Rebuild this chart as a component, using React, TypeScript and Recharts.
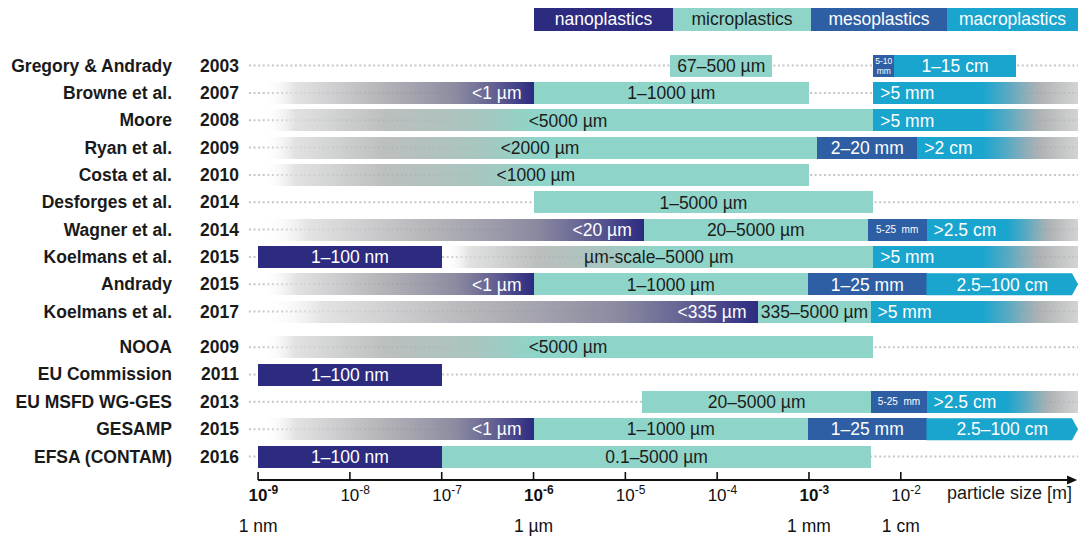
import React from "react";
import { BarChart, Bar, XAxis, YAxis, LabelList, ReferenceLine } from "recharts";

const FONT = "'Liberation Sans', Arial, Helvetica, sans-serif";
const NANO = "#2c2b80";
const MICRO = "#8fd4c8";
const MESO = "#2e5ea3";
const MACRO = "#19a5ce";

// x axis: log10 of particle size in metres
const X_MIN = -9.11;
const X_MAX = -0.07;
// y axis: row positions (small gap before the institutional definitions)
const Y_MIN = -0.922;
const Y_MAX = 15.17;

type Span = [number, number] | null;

const sources = [
  "Gregory & Andrady",
  "Browne et al.",
  "Moore",
  "Ryan et al.",
  "Costa et al.",
  "Desforges et al.",
  "Wagner et al.",
  "Koelmans et al.",
  "Andrady",
  "Koelmans et al.",
  "NOOA",
  "EU Commission",
  "EU MSFD WG-GES",
  "GESAMP",
  "EFSA (CONTAM)",
];
const years = ["2003", "2007", "2008", "2009", "2010", "2014", "2014", "2015", "2015", "2017", "2009", "2011", "2013", "2015", "2016"];
const rowPos = [0, 1, 2, 3, 4, 5, 6, 7, 8, 9, 10.3, 11.3, 12.3, 13.3, 14.3];

const guideSpan: Span = [-9.1, X_MAX];

// faded ends (open size ranges)
const nanoFade: Span[] = [null, [-8.95, -6], null, null, null, null, [-8.95, -4.8], null, [-8.95, -6], [-8.95, -3.55], null, null, null, [-8.95, -6], null];
const microFade: Span[] = [null, null, [-8.95, -6], [-8.95, -6], [-8.95, -6], null, null, [-6.97, -4.74], null, null, [-8.95, -6], null, null, null, null];
const macroFade: Span[] = [null, [-1.12, X_MAX], [-1.12, X_MAX], [-1.12, X_MAX], null, null, [-0.85, X_MAX], [-1.12, X_MAX], null, [-1.12, X_MAX], null, null, [-0.85, X_MAX], null, null];

// solid size classes
const nano: Span[] = [null, null, null, null, null, null, null, [-9, -7], null, null, null, [-9, -7], null, null, [-9, -7]];
const micro: Span[] = [[-4.51, -3.4], [-6, -3], [-6, -2.3], [-6, -2.91], [-6, -3], [-6, -2.3], [-4.8, -2.36], [-4.74, -2.3], [-6, -3.01], [-3.55, -2.33], [-6, -2.3], null, [-4.82, -2.32], [-6, -3.01], [-7, -2.32]];
const meso: Span[] = [[-2.3, -2.07], null, null, [-2.91, -1.82], null, null, [-2.36, -1.72], null, [-3.01, -1.72], null, null, null, [-2.32, -1.72], [-3.01, -1.72], null];
const macro: Span[] = [[-2.07, -0.75], [-2.3, -1.12], [-2.3, -1.12], [-1.82, -1.12], null, null, [-1.72, -0.85], [-2.3, -1.12], [-1.72, X_MAX], [-2.33, -1.12], null, null, [-1.72, -0.85], [-1.72, X_MAX], null];
// faded + solid microplastics range whose label is centred over both
const microSpan: Span[] = [null, null, [-8.95, -2.3], [-8.95, -2.91], [-8.95, -3], null, null, [-6.97, -2.3], null, null, [-8.95, -2.3], null, null, null, null];

const nanoFadeText = [null, "<1 µm", null, null, null, null, "<20 µm", null, "<1 µm", "<335 µm", null, null, null, "<1 µm", null];
const nanoText = [null, null, null, null, null, null, null, "1–100 nm", null, null, null, "1–100 nm", null, null, "1–100 nm"];
const microText = ["67–500 µm", "1–1000 µm", null, null, null, "1–5000 µm", "20–5000 µm", null, "1–1000 µm", "335–5000 µm", null, null, "20–5000 µm", "1–1000 µm", "0.1–5000 µm"];
const mesoText = ["5-10\nmm", null, null, "2–20 mm", null, null, "5-25  mm", null, "1–25 mm", null, null, null, "5-25  mm", "1–25 mm", null];
const macroText = ["1–15 cm", ">5 mm", ">5 mm", ">2 cm", null, null, ">2.5 cm", ">5 mm", "2.5–100 cm", ">5 mm", null, null, ">2.5 cm", "2.5–100 cm", null];
const spanText = [null, null, "<5000 µm", "<2000 µm", "<1000 µm", null, null, "µm-scale–5000 µm", null, null, "<5000 µm", null, null, null, null];

const decadeTicks = [-9, -8, -7, -6, -5, -4, -3, -2];
const boldDecades = [-9, -6, -3];
const decadeUnits = ["1 nm", null, null, "1 µm", null, null, "1 mm", "1 cm"];

const classes = ["nanoplastics", "microplastics", "mesoplastics", "macroplastics"];
const classColors = [NANO, MICRO, MESO, MACRO];
const classInk = ["#ffffff", "#1c1c1c", "#ffffff", "#ffffff"];
const classWidths = [139, 138, 136, 131];

const rows = sources.map((source, i) => ({
  pos: rowPos[i],
  source,
  year: years[i],
  guide: guideSpan,
  nanoFade: nanoFade[i],
  microFade: microFade[i],
  macroFade: macroFade[i],
  nano: nano[i],
  micro: micro[i],
  meso: meso[i],
  macro: macro[i],
  microSpan: microSpan[i],
  nanoFadeText: nanoFadeText[i],
  nanoText: nanoText[i],
  microText: microText[i],
  mesoText: mesoText[i],
  macroText: macroText[i],
  spanText: spanText[i],
}));

const present = (p: any, key: string) =>
  p.payload && p.payload[key] != null && Number.isFinite(p.width) && p.width > 0;

const segment = (key: string) => (p: any) => {
  if (!present(p, key)) return <g />;
  return <rect x={p.x} y={p.y} width={p.width} height={p.height} fill={p.fill} shapeRendering="crispEdges" />;
};

const blank = () => <g />;

function MacroShape(p: any) {
  if (!present(p, "macro")) return <g />;
  const { x, y, width: w, height: h } = p;
  // ranges running off the axis end get a pointed tip
  if (p.payload.macro[1] < X_MAX - 1e-6) {
    return <rect x={x} y={y} width={w} height={h} fill={MACRO} shapeRendering="crispEdges" />;
  }
  const tip = 6;
  return (
    <path
      d={`M${x},${y}H${x + w - tip}L${x + w},${y + h / 2}L${x + w - tip},${y + h}H${x}Z`}
      fill={MACRO}
    />
  );
}

function GuideShape(p: any) {
  const cy = p.y + p.height / 2;
  return (
    <line x1={p.x} x2={p.x + p.width} y1={cy} y2={cy} stroke="#c6c6c6" strokeWidth={2} strokeDasharray="2 2.6" />
  );
}

const segmentLabel = (kind: string) => (p: any) => {
  const box = p.viewBox && typeof p.viewBox.width === "number" ? p.viewBox : p;
  const { x, y, width, height } = box;
  if (p.value == null || !Number.isFinite(x) || !Number.isFinite(width)) return null;
  const text = String(p.value);
  const cy = y + height / 2;
  const dark = kind === "micro" || kind === "span";
  const fill = dark ? "#1c1c1c" : "#ffffff";
  let anchor: "start" | "middle" | "end" = "middle";
  let tx = x + width / 2;
  if (kind === "nanoFade") {
    anchor = "end";
    tx = x + width - 12;
  }
  if (kind === "macro" && text.startsWith(">")) {
    anchor = "start";
    tx = x + 7;
  }
  if (kind === "meso" && width < 70) {
    const lines = text.split("\n");
    const fs = lines.length > 1 ? 8.5 : 10;
    return (
      <text x={tx} y={cy} textAnchor="middle" fill={fill} fontSize={fs} fontFamily={FONT} style={{ whiteSpace: "pre" }}>
        {lines.map((l, i) => (
          <tspan key={i} x={tx} dy={i === 0 ? (lines.length > 1 ? -1.5 : 3.5) : 9.5}>
            {l}
          </tspan>
        ))}
      </text>
    );
  }
  return (
    <text x={tx} y={cy} dy="0.36em" textAnchor={anchor} fill={fill} fontSize={17.5} fontFamily={FONT}>
      {text}
    </text>
  );
};

function SourceTick(p: any) {
  const { x, y, payload } = p;
  const i = rowPos.findIndex((v) => Math.abs(v - payload.value) < 1e-6);
  if (i < 0) return <g />;
  return (
    <g fontFamily={FONT} fontWeight={700} fontSize={17.5} fill="#1a1a1a">
      <text x={x - 76} y={y} dy="0.36em" textAnchor="end">
        {sources[i]}
      </text>
      <text x={x - 9} y={y} dy="0.36em" textAnchor="end">
        {years[i]}
      </text>
    </g>
  );
}

function SizeTick(p: any) {
  const { x, y, payload } = p;
  const i = decadeTicks.indexOf(payload.value);
  const bold = boldDecades.includes(payload.value);
  const unit = i >= 0 ? decadeUnits[i] : null;
  return (
    <g fontFamily={FONT} fill="#111">
      <line x1={x} x2={x} y1={y - 8} y2={y} stroke="#111" strokeWidth={1.6} />
      <text x={x - 9.5} y={y + 21} fontSize={17} fontWeight={bold ? 700 : 400}>
        10
        <tspan dy={-7} fontSize={12}>
          {payload.value}
        </tspan>
      </text>
      {unit && (
        <text x={x} y={y + 52} textAnchor="middle" fontSize={17.5}>
          {unit}
        </text>
      )}
    </g>
  );
}

function AxisArrow(p: any) {
  const { x1, y1, x2, y2 } = p;
  return (
    <g>
      <line x1={x1} y1={y1} x2={x2 - 8} y2={y2} stroke="#111" strokeWidth={2} />
      <polygon points={`${x2},${y2} ${x2 - 10},${y2 - 4.5} ${x2 - 10},${y2 + 4.5}`} fill="#111" />
    </g>
  );
}

function ClassLegend() {
  return (
    <div style={{ position: "absolute", left: 534, top: 8, display: "flex", height: 23 }}>
      {classes.map((c, i) => (
        <div
          key={c}
          style={{
            width: classWidths[i],
            height: 23,
            background: classColors[i],
            color: classInk[i],
            fontSize: 17.5,
            lineHeight: "23px",
            textAlign: "center",
          }}
        >
          {c}
        </div>
      ))}
    </div>
  );
}

export default function App() {
  return (
    <div
      style={{
        position: "absolute",
        left: 0,
        top: 0,
        width: 1078,
        height: 540,
        background: "#fff",
        fontFamily: FONT,
      }}
    >
      <ClassLegend />
      <BarChart
        width={1078}
        height={540}
        data={rows}
        layout="vertical"
        margin={{ top: 40, right: 0, bottom: 0, left: 0 }}
        barSize={22}
        barGap={-22}
        style={{ fontFamily: FONT }}
      >
        <defs>
          <linearGradient id="fadeNano" x1="0" y1="0" x2="1" y2="0">
            <stop offset="0" stopColor="#ffffff" stopOpacity={0} />
            <stop offset="0.12" stopColor="#dcdcdc" stopOpacity={0.8} />
            <stop offset="0.45" stopColor="#a2a2a8" stopOpacity={0.82} />
            <stop offset="0.72" stopColor="#84839b" stopOpacity={0.95} />
            <stop offset="0.88" stopColor="#5a5890" />
            <stop offset="1" stopColor={NANO} />
          </linearGradient>
          <linearGradient id="fadeMicro" x1="0" y1="0" x2="1" y2="0">
            <stop offset="0" stopColor="#ffffff" stopOpacity={0} />
            <stop offset="0.12" stopColor="#dadada" stopOpacity={0.8} />
            <stop offset="0.45" stopColor="#adb1b0" stopOpacity={0.82} />
            <stop offset="0.8" stopColor="#a3c3bd" stopOpacity={0.95} />
            <stop offset="1" stopColor={MICRO} />
          </linearGradient>
          <linearGradient id="fadeMacro" x1="0" y1="0" x2="1" y2="0">
            <stop offset="0" stopColor={MACRO} />
            <stop offset="0.25" stopColor="#52a9c4" />
            <stop offset="0.6" stopColor="#a0a5a7" stopOpacity={0.85} />
            <stop offset="1" stopColor="#c4c4c4" stopOpacity={0.75} />
          </linearGradient>
        </defs>

        <XAxis
          type="number"
          domain={[X_MIN, X_MAX]}
          allowDataOverflow
          ticks={decadeTicks}
          interval={0}
          tick={SizeTick}
          tickSize={0}
          tickMargin={0}
          axisLine={false}
          tickLine={false}
          height={60}
          label={{ value: "particle size [m]", position: "insideTopRight", offset: 6, fontSize: 18, fill: "#1a1a1a" }}
        />
        <YAxis
          type="number"
          dataKey="pos"
          domain={[Y_MIN, Y_MAX]}
          allowDataOverflow
          ticks={rowPos}
          interval={0}
          tick={SourceTick}
          tickSize={0}
          tickMargin={0}
          axisLine={false}
          tickLine={false}
          width={248}
        />

        <Bar dataKey="guide" fill="#c6c6c6" shape={GuideShape} isAnimationActive={false} />
        <Bar dataKey="nanoFade" fill="url(#fadeNano)" shape={segment("nanoFade")} isAnimationActive={false} />
        <Bar dataKey="microFade" fill="url(#fadeMicro)" shape={segment("microFade")} isAnimationActive={false} />
        <Bar dataKey="macroFade" fill="url(#fadeMacro)" shape={segment("macroFade")} isAnimationActive={false} />

        <Bar dataKey="nano" fill={NANO} shape={segment("nano")} isAnimationActive={false}>
          <LabelList dataKey="nanoText" content={segmentLabel("nano")} />
        </Bar>
        <Bar dataKey="micro" fill={MICRO} shape={segment("micro")} isAnimationActive={false}>
          <LabelList dataKey="microText" content={segmentLabel("micro")} />
        </Bar>
        <Bar dataKey="meso" fill={MESO} shape={segment("meso")} isAnimationActive={false}>
          <LabelList dataKey="mesoText" content={segmentLabel("meso")} />
        </Bar>
        <Bar dataKey="macro" fill={MACRO} shape={MacroShape} isAnimationActive={false}>
          <LabelList dataKey="macroText" content={segmentLabel("macro")} />
        </Bar>

        <Bar dataKey="nanoFade" fill="none" shape={blank} isAnimationActive={false}>
          <LabelList dataKey="nanoFadeText" content={segmentLabel("nanoFade")} />
        </Bar>
        <Bar dataKey="microSpan" fill="none" shape={blank} isAnimationActive={false}>
          <LabelList dataKey="spanText" content={segmentLabel("span")} />
        </Bar>

        <ReferenceLine
          segment={[
            { x: -9, y: Y_MAX },
            { x: -0.08, y: Y_MAX },
          ]}
          ifOverflow="visible"
          shape={AxisArrow}
        />
      </BarChart>
    </div>
  );
}
